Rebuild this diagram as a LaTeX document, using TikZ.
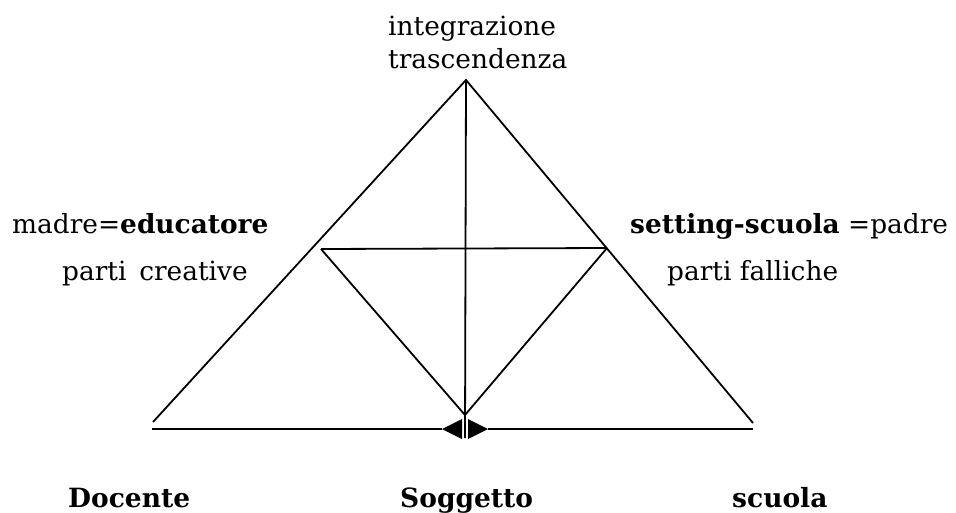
\documentclass[tikz,border=0pt]{standalone}
\usepackage{fontspec}
\setmainfont{DejaVu Serif}
\begin{document}
\begin{tikzpicture}[x=1pt,y=-1pt,
  edge/.style={line width=1.8pt,black},
  lbl/.style={anchor=base west,inner sep=0pt,font=\fontsize{26.4}{30}\selectfont},
  blbl/.style={anchor=base west,inner sep=0pt,font=\fontsize{26.5}{30}\selectfont\bfseries}]
\useasboundingbox (0,0) rectangle (956,512);
% coordinates
\coordinate (A) at (466,80);
\coordinate (L) at (153,422);
\coordinate (R) at (753,423);
\coordinate (ML) at (321,249);
\coordinate (MR) at (607,248);
\coordinate (B) at (465,415);
\coordinate (V) at (465,438);
\coordinate (BL) at (152,429);
\coordinate (BR) at (753,429);
\coordinate (TL) at (442,429);
\coordinate (TR) at (488,429);
% triangle
\draw[edge] (L) -- (A) -- (R);
\draw[edge] (A) -- (V);
\draw[edge] (ML) -- (MR);
\draw[edge] (ML) -- (B) -- (MR);
\draw[edge] (BL) -- (TL);
\draw[edge] (TR) -- (BR);
% double arrow head
\fill (TL) -- (462,419) -- (462,439) -- cycle;
\fill (TR) -- (468,419) -- (468,439) -- cycle;
% labels
\node[lbl] (t1) at (388,35) {integrazione};
\node[lbl] (t2) at (388,68) {trascendenza};
\node[lbl] (m1) at (12,233) {madre=\textbf{educatore}};
\node[lbl] (m2) at (62,280) {parti\, creative};
\node[lbl] (p1) at (630,233) {\textbf{setting-scuola} =padre};
\node[lbl] (p2) at (667,280) {parti falliche};
\node[blbl] (d) at (68,507) {Docente};
\node[blbl] (s) at (400,507) {Soggetto};
\node[blbl] (c) at (732,507) {scuola};
\end{tikzpicture}
\end{document}
